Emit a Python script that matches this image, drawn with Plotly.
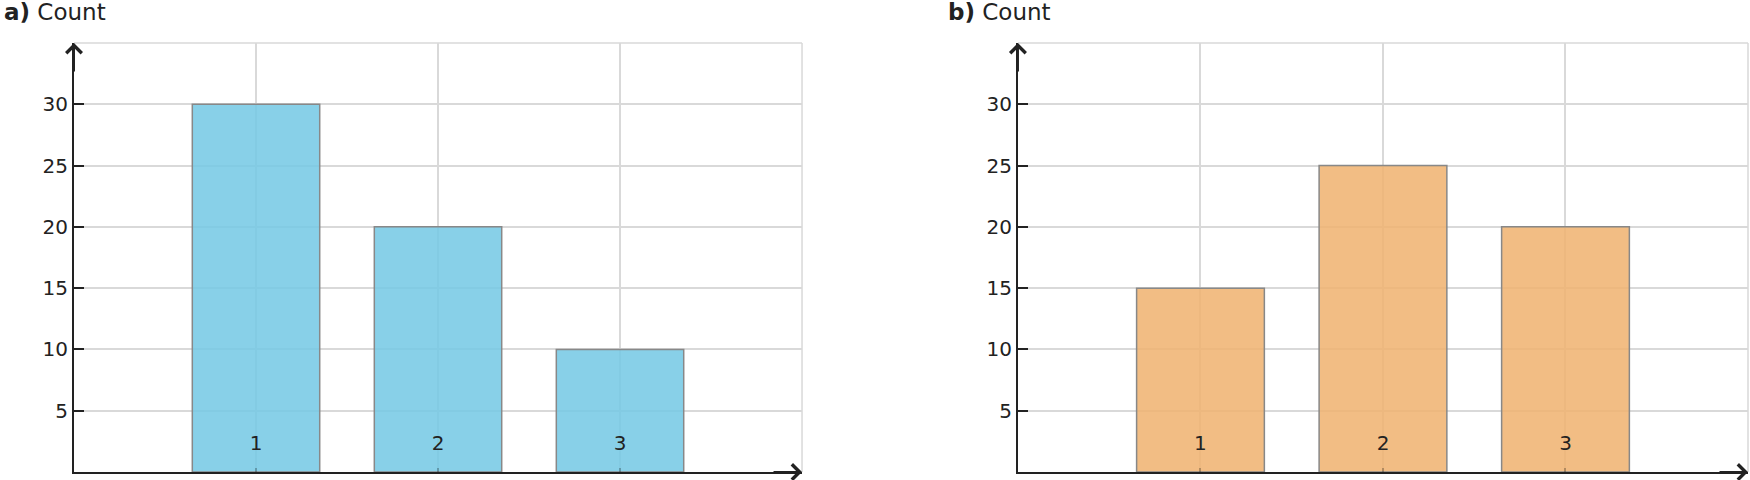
import plotly.graph_objects as go
from plotly.subplots import make_subplots

# data
categories = [1, 2, 3]
counts_a = [30, 20, 10]
counts_b = [15, 25, 20]
panel_labels = ['a)', 'b)']
y_ticks = [5, 10, 15, 20, 25, 30]

FONT = 'DejaVu Sans'
INK = '#222222'
GRID = '#d9d9d9'
bar_fills = ['rgba(115,200,228,0.85)', 'rgba(240,178,110,0.85)']

fig = make_subplots(rows=1, cols=2)

for idx, counts in enumerate([counts_a, counts_b]):
    fig.add_trace(
        go.Bar(
            x=categories,
            y=counts,
            width=0.7,
            marker=dict(color=bar_fills[idx], line=dict(color='#888888', width=1.5)),
            showlegend=False,
            hoverinfo='x+y',
        ),
        row=1, col=idx + 1
    )

fig.update_xaxes(
    range=[0, 4],
    tickvals=categories,
    ticks='inside', ticklen=4, tickwidth=1.5, tickcolor='rgba(0,0,0,0.25)',
    ticklabelposition='inside', ticklabelstandoff=15,
    showgrid=True, gridcolor=GRID, gridwidth=1.5,
    showline=True, linecolor=INK, linewidth=2,
    zeroline=False, automargin=False,
    tickfont=dict(family=FONT, size=20, color=INK),
)
fig.update_yaxes(
    range=[0, 35],
    tickvals=y_ticks,
    ticks='inside', ticklen=10, tickwidth=2, tickcolor=INK,
    showgrid=True, gridcolor=GRID, gridwidth=1.5,
    showline=True, linecolor=INK, linewidth=2,
    zeroline=False, automargin=False,
    tickfont=dict(family=FONT, size=20, color=INK),
)

fig.update_layout(
    width=1750, height=480,
    margin=dict(l=74, r=2, t=43, b=8),
    plot_bgcolor='white', paper_bgcolor='white',
    xaxis=dict(domain=[0, 0.4349]),
    xaxis2=dict(domain=[0.5639, 1]),
)

for idx, label in enumerate(panel_labels):
    xr = 'x domain' if idx == 0 else 'x2 domain'
    yr = 'y domain' if idx == 0 else 'y2 domain'
    # light frame on top and right
    fig.add_shape(type='line', xref=xr, yref=yr, x0=0, x1=1, y0=1, y1=1,
                  line=dict(color=GRID, width=1.5), layer='below')
    fig.add_shape(type='line', xref=xr, yref=yr, x0=1, x1=1, y0=0, y1=1,
                  line=dict(color=GRID, width=1.5), layer='below')
    # arrow heads on the axes
    fig.add_annotation(xref=xr, yref=yr, x=1, y=0, ax=-30, ay=0, text='',
                       showarrow=True, arrowhead=4, arrowsize=1.5, arrowwidth=2, arrowcolor=INK)
    fig.add_annotation(xref=xr, yref=yr, x=0, y=1, ax=0, ay=30, text='',
                       showarrow=True, arrowhead=4, arrowsize=1.5, arrowwidth=2, arrowcolor=INK)
    # panel title
    fig.add_annotation(xref=xr, yref=yr, x=0, y=1, xshift=-72, yshift=31,
                       xanchor='left', yanchor='middle', showarrow=False,
                       text='<b>' + label + '</b> Count',
                       font=dict(family=FONT, size=23, color=INK))

# drop the default 8px page margin so the figure sits at the window corner
fig.write_html('out.html', config={'displayModeBar': False},
               post_script="document.body.style.margin = '0';")
